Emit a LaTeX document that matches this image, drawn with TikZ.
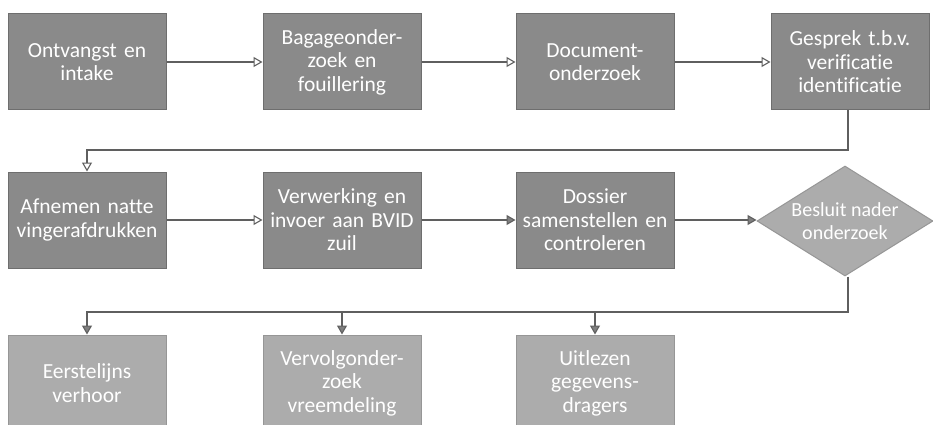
\documentclass[tikz,border=0pt]{standalone}
\usepackage{fontspec}
\setmainfont{Carlito}[RawFeature=-liga]
\usetikzlibrary{shapes.geometric,arrows.meta}
\definecolor{darkbox}{RGB}{138,138,138}
\definecolor{darkedge}{RGB}{110,110,110}
\definecolor{lightbox}{RGB}{172,172,172}
\definecolor{lightedge}{RGB}{150,150,150}
\definecolor{linec}{RGB}{95,95,95}
\begin{document}
\begin{tikzpicture}[x=1pt,y=-1pt,
  basebox/.style={rectangle, minimum width=158pt, minimum height=96pt, inner sep=1pt,
    text width=156pt, align=center, text=white, font=\fontsize{21.5}{23.5}\selectfont, line width=1pt},
  darkstep/.style={basebox, fill=darkbox, draw=darkedge},
  lightstep/.style={basebox, fill=lightbox, draw=lightedge},
  decision/.style={diamond, minimum width=176pt, minimum height=110pt, inner sep=0pt,
    fill=lightbox, draw=lightedge, line width=1pt},
  decisiontext/.style={text=white, align=center, font=\fontsize{20}{23}\selectfont},
  openarr/.style={draw=linec, line width=1.1pt, -{Triangle[open,length=9pt,width=10pt]}},
  fillarr/.style={draw=linec, line width=1.1pt, -{Triangle[length=9pt,width=10pt,fill=linec!80]}}]
\clip (0,0) rectangle (933,425);
\fill[white] (0,0) rectangle (933,425);
% row 1
\node[darkstep] (a1) at (87,62) {Ontvangst en\\intake};
\node[darkstep] (a2) at (342,62) {Bagageonder-\\zoek en\\fouillering};
\node[darkstep] (a3) at (595,62) {Document-\\onderzoek};
\node[darkstep] (a4) at (850,62) {Gesprek t.b.v.\\verificatie\\identificatie};
% row 2
\node[darkstep] (b1) at (87,220) {Afnemen natte\\vingerafdrukken};
\node[darkstep] (b2) at (342,220) {Verwerking en\\invoer aan BVID\\zuil};
\node[darkstep] (b3) at (595,220) {Dossier\\samenstellen en\\controleren};
\node[decision] (d) at (845,221) {};
\node[decisiontext] (dt) at (d.center) {Besluit nader\\onderzoek};
% row 3
\node[lightstep] (c1) at (87,383) {Eerstelijns\\verhoor};
\node[lightstep] (c2) at (342,383) {Vervolgonder-\\zoek\\vreemdeling};
\node[lightstep] (c3) at (595,383) {Uitlezen\\gegevens-\\dragers};
% connectors
\draw[openarr] (a1.east) -- (a2.west);
\draw[openarr] (a2.east) -- (a3.west);
\draw[openarr] (a3.east) -- (a4.west);
\coordinate (turn1) at (848,150);
\draw[openarr] (a4.south -| turn1) -- (turn1) -| (b1.north);
\draw[openarr] (b1.east) -- (b2.west);
\draw[fillarr] (b2.east) -- (b3.west);
\draw[fillarr] (b3.east) -- (b3.east -| d.west);
\coordinate (turn2) at (848,312);
\draw[fillarr] (d.south -| turn2) -- (turn2) -| (c1.north);
\draw[fillarr] (c2.north |- turn2) -- (c2.north);
\draw[fillarr] (c3.north |- turn2) -- (c3.north);
\end{tikzpicture}
\end{document}
